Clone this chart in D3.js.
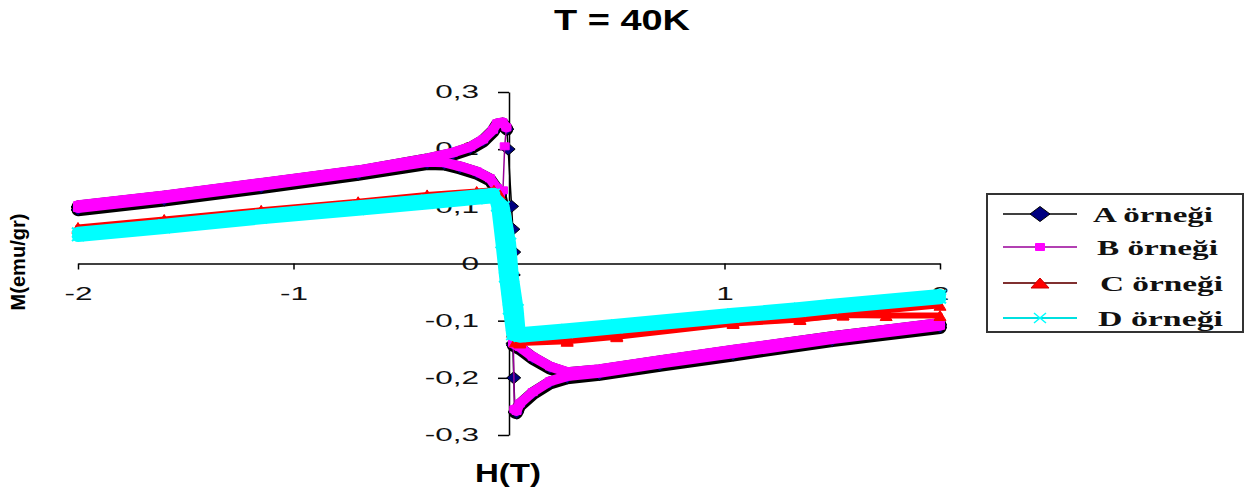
<!DOCTYPE html>
<html>
<head>
<meta charset="utf-8">
<script src="https://cdn.jsdelivr.net/npm/d3@7"></script>
<style>
  body { margin: 0; background: #fff; }
</style>
</head>
<body>
<div id="chart"></div>
<script>
// H(T) / M(emu/gr) values, one array pair per branch
var hA1 = [-2, -1.6, -1.15, -0.7, -0.38, -0.26, -0.18, -0.12, -0.074, -0.056, -0.03, -0.01, -0.004, 0.012, 0.018, 0.022, 0.02, 0.024, 0.02, 0.018, 0.022, 0.028, 0.035, 0.05, 0.11, 0.19, 0.27, 0.42, 0.7, 1.04, 1.5, 2];
var mA1 = [0.099, 0.116, 0.138, 0.16, 0.181, 0.191, 0.201, 0.214, 0.231, 0.242, 0.244, 0.235, 0.2, 0.1, 0.06, 0.02, -0.02, -0.06, -0.1, -0.14, -0.2, -0.26, -0.261, -0.248, -0.228, -0.209, -0.2, -0.194, -0.178, -0.16, -0.135, -0.112];
var hA2 = [2, 1.5, 1.04, 0.7, 0.42, 0.27, 0.19, 0.11, 0.05, 0.02, 0.014, 0.008, 0.0, -0.01, -0.03, -0.042, -0.056, -0.088, -0.149, -0.227, -0.3, -0.38, -0.7, -1.15, -1.6, -2];
var mA2 = [-0.107, -0.13, -0.154, -0.172, -0.188, -0.193, -0.183, -0.166, -0.149, -0.143, -0.09, -0.04, 0.0, 0.05, 0.1, 0.12, 0.129, 0.146, 0.158, 0.167, 0.174, 0.175, 0.156, 0.133, 0.111, 0.094];

var hB1 = [-2, -1.6, -1.15, -0.7, -0.38, -0.26, -0.18, -0.12, -0.074, -0.056, -0.03, -0.012, -0.02, -0.028, 0.02, 0.025, 0.035, 0.05, 0.11, 0.19, 0.27, 0.42, 0.7, 1.04, 1.5, 2];
var mB1 = [0.102, 0.119, 0.141, 0.163, 0.184, 0.194, 0.204, 0.217, 0.234, 0.245, 0.247, 0.238, 0.205, 0.128, -0.138, -0.255, -0.258, -0.245, -0.225, -0.206, -0.197, -0.191, -0.175, -0.157, -0.132, -0.109];
var hB2 = [2, 1.5, 1.04, 0.7, 0.42, 0.27, 0.19, 0.11, 0.05, 0.02, -0.042, -0.056, -0.088, -0.149, -0.227, -0.3, -0.38, -0.7, -1.15, -1.6, -2];
var mB2 = [-0.104, -0.127, -0.151, -0.169, -0.185, -0.19, -0.18, -0.163, -0.146, -0.14, 0.123, 0.132, 0.149, 0.161, 0.17, 0.177, 0.178, 0.159, 0.136, 0.114, 0.097];

var hC1 = [-2, -1.6, -1.15, -0.7, -0.38, -0.15, -0.07, -0.05, -0.03, -0.015, -0.005, 0.005, 0.015, 0.03, 0.05, 0.27, 0.5, 1.04, 1.35, 1.55, 1.75, 2];
var mC1 = [0.063, 0.077, 0.093, 0.108, 0.12, 0.126, 0.128, 0.11, 0.07, 0.02, -0.03, -0.08, -0.12, -0.137, -0.137, -0.134, -0.126, -0.103, -0.097, -0.09, -0.082, -0.073];
var hC2 = [2, 1.75, 1.55, 1.35, 1.04, 0.5, 0.27, 0.05, 0.035, 0.025, 0.015, 0.005, -0.008, -0.025, -0.045, -0.07, -0.15, -0.38, -0.7, -1.15, -1.6, -2];
var mC2 = [-0.091, -0.091, -0.09, -0.098, -0.105, -0.128, -0.136, -0.139, -0.12, -0.08, -0.03, 0.02, 0.07, 0.105, 0.122, 0.126, 0.124, 0.118, 0.106, 0.091, 0.075, 0.061];

var hD1 = [-2, -1.6, -1.15, -0.7, -0.38, -0.15, -0.07, -0.055, -0.035, -0.018, 0.0, 0.015, 0.05, 0.27, 0.5, 1.04, 1.35, 1.5, 2];
var mD1 = [0.054, 0.068, 0.085, 0.1, 0.111, 0.119, 0.122, 0.1, 0.036, -0.024, -0.08, -0.125, -0.128, -0.121, -0.113, -0.094, -0.084, -0.078, -0.061];
var hD2 = [2, 1.5, 1.35, 1.04, 0.5, 0.27, 0.05, 0.04, 0.018, 0.005, -0.025, -0.07, -0.15, -0.38, -0.7, -1.15, -1.6, -2];
var mD2 = [-0.055, -0.072, -0.078, -0.088, -0.107, -0.115, -0.122, -0.08, -0.024, 0.036, 0.1, 0.116, 0.113, 0.105, 0.094, 0.079, 0.062, 0.048];

var seriesNames = ["A örneği", "B örneği", "C örneği", "D örneği"];
var xTicks = [-2, -1, 0, 1, 2];
var xTickLabels = ["-2", "-1", "0", "1", "2"];
var yTicks = [-0.3, -0.2, -0.1, 0, 0.1, 0.2, 0.3];
var yTickLabels = ["-0,3", "-0,2", "-0,1", "0", "0,1", "0,2", "0,3"];

var svg = d3.select("#chart")
  .append("svg")
  .attr("width", 1248)
  .attr("height", 490);

var x = d3.scaleLinear().domain([-2, 2]).range([78, 940]);
var y = d3.scaleLinear().domain([-0.3, 0.3]).range([435, 92]);

var sans = "'Liberation Sans', Arial, sans-serif";
var serif = "'Liberation Serif', 'Times New Roman', serif";

// title + axis titles
svg.append("text")
  .attr("x", 622).attr("y", 30)
  .attr("text-anchor", "middle")
  .attr("font-family", sans).attr("font-weight", "bold").attr("font-size", 29)
  .attr("textLength", 136).attr("lengthAdjust", "spacingAndGlyphs")
  .text("T = 40K");

svg.append("text")
  .attr("x", 508).attr("y", 482)
  .attr("text-anchor", "middle")
  .attr("font-family", sans).attr("font-weight", "bold").attr("font-size", 26)
  .attr("textLength", 66).attr("lengthAdjust", "spacingAndGlyphs")
  .text("H(T)");

svg.append("text")
  .attr("transform", "translate(25,262) rotate(-90)")
  .attr("text-anchor", "middle")
  .attr("font-family", sans).attr("font-weight", "bold").attr("font-size", 20)
  .attr("textLength", 97).attr("lengthAdjust", "spacingAndGlyphs")
  .text("M(emu/gr)");

// axes
var xAxis = d3.axisBottom(x)
  .tickValues(xTicks)
  .tickSize(6).tickSizeOuter(0).tickPadding(18)
  .tickFormat(function(d, i) { return xTickLabels[i]; });

var gx = svg.append("g")
  .attr("class", "axis x-axis")
  .attr("transform", "translate(0," + y(0) + ")")
  .call(xAxis);

var yAxis = d3.axisLeft(y)
  .tickValues(yTicks)
  .tickSize(11).tickSizeOuter(0).tickPadding(19)
  .tickFormat(function(d, i) { return yTickLabels[i]; });

var gy = svg.append("g")
  .attr("class", "axis y-axis")
  .attr("transform", "translate(" + x(0) + ",0)")
  .call(yAxis);

[gx, gy].forEach(function(g) {
  g.select(".domain").attr("stroke", "#000").attr("stroke-width", 1.5);
  g.selectAll(".tick line").attr("stroke", "#000").attr("stroke-width", 1.5);
  g.selectAll(".tick text")
    .attr("font-family", sans).attr("font-size", 18).attr("fill", "#111");
});
gx.selectAll(".tick text").attr("transform", "scale(1.75,1)");
gy.selectAll(".tick text").attr("x", -30 / 1.75).attr("transform", "scale(1.75,1)");

// marker shapes
function diamond(w, h) { return "M0," + (-h) + "L" + w + ",0L0," + h + "L" + (-w) + ",0Z"; }
function square(w, h) { return "M" + (-w) + "," + (-h) + "h" + (2 * w) + "v" + (2 * h) + "h" + (-2 * w) + "Z"; }
function triangle(w, h) { return "M0," + (-h) + "L" + w + "," + h + "L" + (-w) + "," + h + "Z"; }
function cross(w, h) { return "M" + (-w) + "," + (-h) + "L" + w + "," + h + "M" + w + "," + (-h) + "L" + (-w) + "," + h; }

var series = [
  { branches: [[hA1, mA1], [hA2, mA2]], band: "#000", bandW: 13, line: "#000", lineW: 1.5, thin: true,
    marker: diamond(7, 6), fill: "#000080", stroke: "#000", legMarker: diamond(10, 7.5) },
  { branches: [[hB1, mB1], [hB2, mB2]], band: "#ff00ff", bandW: 10, line: "#990099", lineW: 1.5, thin: true,
    marker: square(4.5, 3.5), fill: "#ff00ff", stroke: "#ff00ff", legMarker: square(4.5, 3.5) },
  { branches: [[hC1, mC1], [hC2, mC2]], band: "#ff0000", bandW: 6, line: "#803030", lineW: 1.5, thin: false,
    marker: triangle(6, 5), fill: "#ff0000", stroke: "#ff0000", legMarker: triangle(9, 5) },
  { branches: [[hD1, mD1], [hD2, mD2]], band: "#00ffff", bandW: 12, line: "#00e0e0", lineW: 1.5, thin: false,
    marker: cross(6, 5), fill: "none", stroke: "#00ffff", legMarker: cross(6, 5) }
];

var line = d3.line()
  .x(function(d) { return x(d.h); })
  .y(function(d) { return y(d.m); });

function steep(a, b) {
  var dy = Math.abs(y(a.m) - y(b.m)), dx = Math.abs(x(a.h) - x(b.h));
  return dy > 18 && dy > 2 * dx;
}

// split a branch into pieces where the points are dense (thick band)
function runs(pts) {
  var out = [], cur = [pts[0]];
  for (var i = 1; i < pts.length; i++) {
    if (steep(pts[i - 1], pts[i])) {
      if (cur.length > 1) out.push(cur);
      cur = [pts[i]];
    } else {
      cur.push(pts[i]);
    }
  }
  if (cur.length > 1) out.push(cur);
  return out;
}

series.forEach(function(s) {
  var g = svg.append("g");
  s.branches.forEach(function(br) {
    var pts = br[0].map(function(h, i) { return { h: h, m: br[1][i] }; });

    g.append("path")
      .attr("d", line(pts))
      .attr("fill", "none")
      .attr("stroke", s.line)
      .attr("stroke-width", s.lineW);

    var pieces = s.thin ? runs(pts) : [pts];
    pieces.forEach(function(p) {
      g.append("path")
        .attr("d", line(p))
        .attr("fill", "none")
        .attr("stroke", s.band)
        .attr("stroke-width", s.bandW)
        .attr("stroke-linejoin", "round")
        .attr("stroke-linecap", "round");
    });

    g.selectAll(null)
      .data(pts)
      .enter().append("path")
      .attr("transform", function(d) { return "translate(" + x(d.h) + "," + y(d.m) + ")"; })
      .attr("d", s.marker)
      .attr("fill", s.fill)
      .attr("stroke", s.stroke)
      .attr("stroke-width", s.fill === "none" ? 2 : 1);
  });
});

// legend
var legend = svg.append("g");
legend.append("rect")
  .attr("x", 987).attr("y", 194)
  .attr("width", 256).attr("height", 138)
  .attr("fill", "#fff")
  .attr("stroke", "#333")
  .attr("stroke-width", 2);

var legY = [214, 247, 283, 318];
var legTextX = [1093, 1097, 1100, 1098];
var legTextW = [120, 121, 123, 125];

seriesNames.forEach(function(name, i) {
  var s = series[i];
  legend.append("line")
    .attr("x1", 1003).attr("x2", 1077)
    .attr("y1", legY[i]).attr("y2", legY[i])
    .attr("stroke", s.line)
    .attr("stroke-width", i < 2 ? 1.5 : 2);
  legend.append("path")
    .attr("transform", "translate(1040," + legY[i] + ")")
    .attr("d", s.legMarker)
    .attr("fill", s.fill)
    .attr("stroke", i === 2 ? "#cc0000" : s.stroke)
    .attr("stroke-width", s.fill === "none" ? 1.5 : 1);
  legend.append("text")
    .attr("x", legTextX[i]).attr("y", legY[i] + 8)
    .attr("font-family", serif).attr("font-weight", "bold").attr("font-size", 20)
    .attr("textLength", legTextW[i]).attr("lengthAdjust", "spacingAndGlyphs")
    .attr("fill", "#111")
    .text(name);
});
</script>
</body>
</html>
